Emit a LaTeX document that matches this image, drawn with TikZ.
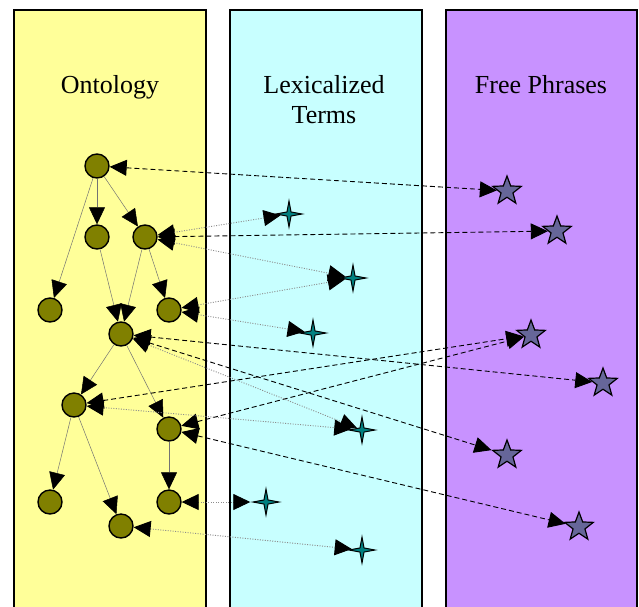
\documentclass[tikz,border=0pt]{standalone}
\usepackage{fontspec}
\setmainfont{Liberation Serif}
\usetikzlibrary{arrows.meta,shapes.geometric}
\definecolor{ontyellow}{HTML}{FFFF99}
\definecolor{lexcyan}{HTML}{C8FFFF}
\definecolor{freepurple}{HTML}{C892FF}
\definecolor{conceptolive}{HTML}{808000}
\definecolor{phrasegray}{HTML}{666699}
\definecolor{termteal}{HTML}{008080}
\begin{document}
\begin{tikzpicture}[x=1pt,y=-1pt,
  panel/.style={draw=black,line width=1.5pt},
  concept/.style={circle,draw=black,line width=1.4pt,fill=conceptolive,minimum size=24pt,inner sep=0pt},
  phrase/.style={star,star points=5,star point ratio=2.4,draw=black,line width=1.2pt,fill=phrasegray,minimum size=30pt,inner sep=0pt},
  term/.style={star,star points=4,star point ratio=4.5,draw=black,line width=1pt,fill=termteal,minimum size=26pt,inner sep=0pt},
  bigtri/.tip={Triangle[length=17pt,width=16pt,color=black]},
  treeedge/.style={-bigtri,draw=black!55,line width=0.5pt},
  freelink/.style={bigtri-bigtri,draw=black,dash pattern=on 5pt off 3pt,line width=0.9pt},
  termlink/.style={bigtri-bigtri,draw=black!45,dash pattern=on 1pt off 1.5pt,line width=0.9pt},
  paneltitle/.style={font=\fontsize{26}{30}\selectfont,align=center,anchor=base,inner sep=0pt}
]
\clip (0,0) rectangle (639,606);
\fill[white] (0,0) rectangle (639,606);
% panels
\draw[panel,fill=ontyellow] (14,10) rectangle (206,640);
\draw[panel,fill=lexcyan] (230,10) rectangle (422,640);
\draw[panel,fill=freepurple] (446,10) rectangle (637,640);
\node[paneltitle] (t1) at (110,93) {Ontology};
\node[paneltitle] (t2) at (324,123) {Lexicalized\\Terms};
\node[paneltitle] (t3) at (541,93) {Free Phrases};
% ontology nodes
\node[concept] (A) at (97,166) {};
\node[concept] (B) at (97,237) {};
\node[concept] (C) at (145,237) {};
\node[concept] (D) at (50,310) {};
\node[concept] (E) at (169,310) {};
\node[concept] (F) at (121,334) {};
\node[concept] (G) at (74,405) {};
\node[concept] (H) at (169,429) {};
\node[concept] (I) at (50,502) {};
\node[concept] (J) at (169,502) {};
\node[concept] (K) at (121,526) {};
% lexicalized terms
\node[term] (T1) at (289,214) {};
\node[term] (T2) at (353,278) {};
\node[term] (T3) at (313,333) {};
\node[term] (T4) at (362,430) {};
\node[term] (T5) at (266,502) {};
\node[term] (T6) at (362,550) {};
% free phrases
\node[phrase] (S1) at (507,191) {};
\node[phrase] (S2) at (557,231) {};
\node[phrase] (S3) at (531,335) {};
\node[phrase] (S4) at (603,383) {};
\node[phrase] (S5) at (507,455) {};
\node[phrase] (S6) at (579,527) {};
% tree
\draw[treeedge] (A) -- (B);
\draw[treeedge] (A) -- (C);
\draw[treeedge] (A) -- (D);
\draw[treeedge] (B) -- (F);
\draw[treeedge] (C) -- (F);
\draw[treeedge] (C) -- (E);
\draw[treeedge] (F) -- (G);
\draw[treeedge] (F) -- (H);
\draw[treeedge] (G) -- (I);
\draw[treeedge] (G) -- (K);
\draw[treeedge] (H) -- (J);
% links to free phrases
\draw[freelink] (A) -- (S1);
\draw[freelink] (C) -- (S2);
\draw[freelink] (F) -- (S4);
\draw[freelink] (F) -- (S5);
\draw[freelink] (G) -- (S3);
\draw[freelink] (H) -- (S3);
\draw[freelink] (H) -- (S6);
% links to lexicalized terms
\draw[termlink] (C) -- (T1);
\draw[termlink] (C) -- (T2);
\draw[termlink] (E) -- (T2);
\draw[termlink] (E) -- (T3);
\draw[termlink] (F) -- (T4);
\draw[termlink] (G) -- (T4);
\draw[termlink] (J) -- (T5);
\draw[termlink] (K) -- (T6);
\end{tikzpicture}
\end{document}
